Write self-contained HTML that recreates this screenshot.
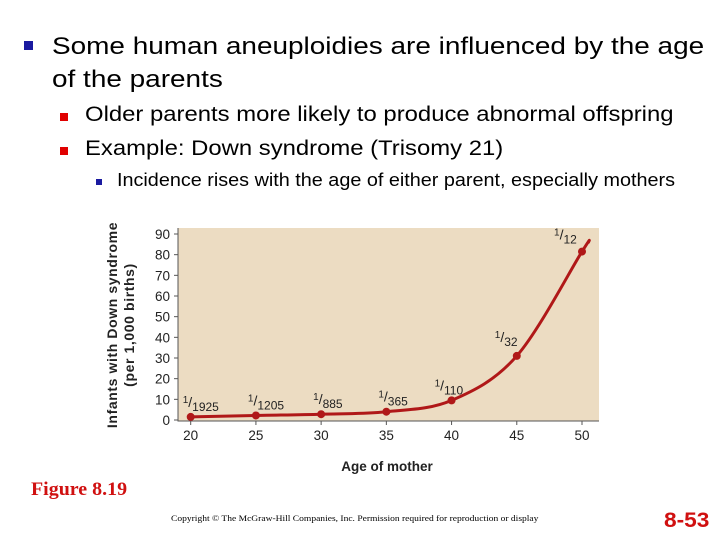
<!DOCTYPE html>
<html><head><meta charset="utf-8"><style>
body{margin:0;width:720px;height:540px;background:#fff;position:relative;overflow:hidden;font-family:"Liberation Sans",Arial,sans-serif}
.t{position:absolute;white-space:nowrap;color:#000;transform-origin:left}
.b{position:absolute}
</style></head><body>
<div class="b" style="left:24px;top:41px;width:9px;height:9px;background:#1a1aa0"></div>
<div class="t" style="left:52px;top:30px;font-size:24.5px;line-height:33px;transform:scaleX(1.14)">Some human aneuploidies are influenced by the age<br>of the parents</div>
<div class="b" style="left:60px;top:113px;width:8px;height:8px;background:#e00000"></div>
<div class="t" style="left:85px;top:102px;font-size:21.5px;transform:scaleX(1.11)">Older parents more likely to produce abnormal offspring</div>
<div class="b" style="left:60px;top:147px;width:8px;height:8px;background:#e00000"></div>
<div class="t" style="left:85px;top:136px;font-size:21.5px;transform:scaleX(1.11)">Example: Down syndrome (Trisomy 21)</div>
<div class="b" style="left:96px;top:179px;width:6px;height:6px;background:#1a1aa0"></div>
<div class="t" style="left:117px;top:170px;font-size:18px;transform:scaleX(1.1)">Incidence rises with the age of either parent, especially mothers</div>

<svg id="chart" style="position:absolute;left:0;top:0" width="720" height="540"></svg>

<div class="t" style="left:31px;top:479px;font-family:'Liberation Serif',serif;font-weight:bold;font-size:19px;color:#d01010;transform:scaleX(1.05)">Figure 8.19</div>
<div class="t" style="left:171px;top:514px;font-family:'Liberation Serif',serif;font-size:8px;transform:scaleX(1.19)">Copyright © The McGraw-Hill Companies, Inc. Permission required for reproduction or display</div>
<div class="t" style="left:664px;top:509px;font-weight:bold;font-size:21px;color:#d01010;transform:scaleX(1.08)">8-53</div>

<script>
const ages=[20,25,30,35,40,45,50];
const rates=[1.5,2.2,2.8,4,9.5,31,81.5];
const fracNum=['1','1','1','1','1','1','1'];
const fracDen=['1925','1205','885','365','110','32','12'];
const yTicks=[0,10,20,30,40,50,60,70,80,90];
const xTicks=[20,25,30,35,40,45,50];
const NS='http://www.w3.org/2000/svg';
const svg=document.getElementById('chart');
const X=v=>190.7+(v-20)*(582-190.7)/30;
const Y=v=>420-v*(420-234)/90;
function mk(t,a,p){const e=document.createElementNS(NS,t);for(const k in a)e.setAttribute(k,a[k]);(p||svg).appendChild(e);return e;}
const bg=mk('rect',{x:178,y:228,width:421,height:193,fill:'#ecdcc2'});


const ax=mk('path',{d:'M178,228V421H599',stroke:'#555',fill:'none','stroke-width':1});


yTicks.forEach(v=>{
  const l=mk('line',{x1:174,x2:178,y1:Y(v),y2:Y(v),stroke:'#555'});
  
  
  const t=mk('text',{x:170,y:Y(v)+5,'text-anchor':'end','font-size':13.5,fill:'#222'});
  t.textContent=v;
  
  
});
xTicks.forEach(v=>{
  const l=mk('line',{x1:X(v),x2:X(v),y1:421,y2:425,stroke:'#555'});
  
  
  const t=mk('text',{x:X(v),y:440,'text-anchor':'middle','font-size':13.5,fill:'#222'});
  t.textContent=v;
  
  
});
const pts=ages.map((a,i)=>[X(a),Y(rates[i])]);
const last=pts[pts.length-1],prev=pts[pts.length-2];
const ext=[last[0]+(last[0]-prev[0])*0.1,last[1]+(last[1]-prev[1])*0.09];
const P=[pts[0]].concat(pts,[ext],[ext]);
let d='M'+pts[0][0]+','+pts[0][1];
for(let i=1;i<P.length-2;i++){
  const p0=P[i-1],p1=P[i],p2=P[i+1],p3=P[i+2];
  d+=' C'+(p1[0]+(p2[0]-p0[0])/6)+','+(p1[1]+(p2[1]-p0[1])/6)+' '+(p2[0]-(p3[0]-p1[0])/6)+','+(p2[1]-(p3[1]-p1[1])/6)+' '+p2[0]+','+p2[1];
}
const c=mk('path',{d:d,stroke:'#b01818',fill:'none','stroke-width':3,'stroke-linecap':'round'});


pts.forEach((p,i)=>{
  const dot=mk('circle',{cx:p[0],cy:p[1],r:4,fill:'#b01818'});
  
  
  const lx=i==6?p[0]-28:(i==5?p[0]-22:(i==4?p[0]-17:p[0]-8));
  const ly=i==6?p[1]-12:(i==5?p[1]-14:p[1]-10);
  const g=mk('text',{x:lx,y:ly,'font-size':12,fill:'#222'});
  
  
  const s1=mk('tspan',{'font-size':10,dy:-4},g);s1.textContent=fracNum[i];
  const s2=mk('tspan',{'font-size':14,dy:4},g);s2.textContent='/';
  const s3=mk('tspan',{'font-size':12,dy:4},g);s3.textContent=fracDen[i];
});
const yt=mk('text',{transform:'translate(117,325) rotate(-90)','text-anchor':'middle','font-size':14,'font-weight':'bold',fill:'#222','letter-spacing':0.6});


const a1=mk('tspan',{x:0,dy:0},yt);a1.textContent='Infants with Down syndrome';
const a2=mk('tspan',{x:0,dy:17},yt);a2.textContent='(per 1,000 births)';
const xt=mk('text',{x:387,y:471,'text-anchor':'middle','font-size':13.5,'font-weight':'bold',fill:'#222'});
xt.textContent='Age of mother';


</script>
</body></html>
